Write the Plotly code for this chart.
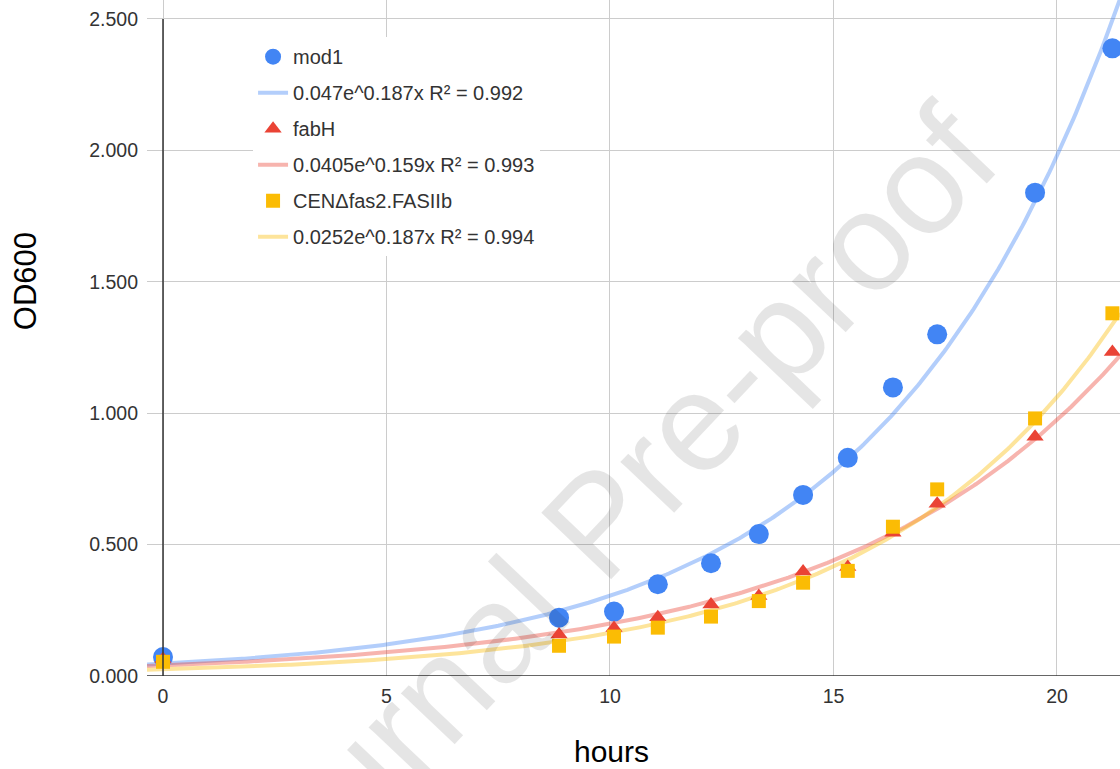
import numpy as np
import plotly.graph_objects as go

# ---- data ----
hours = [0, 8.86, 10.09, 11.07, 12.26, 13.33, 14.32, 15.32, 16.33, 17.32, 19.51, 21.24]
mod1 = [0.072, 0.222, 0.245, 0.349, 0.429, 0.540, 0.689, 0.830, 1.098, 1.300, 1.839, 2.388]
fabH = [0.065, 0.158, 0.183, 0.224, 0.272, 0.304, 0.398, 0.415, 0.545, 0.655, 0.910, 1.233]
cen = [0.054, 0.115, 0.150, 0.184, 0.226, 0.285, 0.355, 0.400, 0.568, 0.710, 0.980, 1.380]

series_names = ["mod1", "fabH", "CENΔfas2.FASIIb"]
trend_a = [0.047, 0.0405, 0.0252]
trend_b = [0.187, 0.159, 0.187]
trend_labels = ["0.047e^0.187x R² = 0.992", "0.0405e^0.159x R² = 0.993", "0.0252e^0.187x R² = 0.994"]

x_ticks = [0, 5, 10, 15, 20]
y_ticks = [0, 0.5, 1.0, 1.5, 2.0, 2.5]

colors = ["#4285F4", "#EA4335", "#FBBC04"]
trend_colors = ["rgba(66,133,244,0.4)", "rgba(234,67,53,0.4)", "rgba(251,188,4,0.4)"]
symbols = ["circle", "triangle-up", "square"]
sizes = [20, 15, 14]

X_RANGE = [-0.358, 21.41]
Y_RANGE = [0, 2.572]

fig = go.Figure()
xs = np.linspace(X_RANGE[0], X_RANGE[1], 400)
ys_list = [mod1, fabH, cen]

# trendlines first (under markers)
for i in range(3):
    fig.add_trace(go.Scatter(
        x=xs, y=trend_a[i] * np.exp(trend_b[i] * xs), mode="lines",
        line=dict(color=trend_colors[i], width=4), name=trend_labels[i],
        legendgroup="t%d" % i, legendrank=2 * i + 2, hoverinfo="skip"))
for i in range(3):
    fig.add_trace(go.Scatter(
        x=hours, y=ys_list[i], mode="markers", name=series_names[i],
        marker=dict(color=colors[i], symbol=symbols[i], size=sizes[i], line=dict(width=0)),
        legendgroup="s%d" % i, legendrank=2 * i + 1))

# axis lines at x=0 and y=0
fig.add_shape(type="line", xref="paper", yref="y", x0=0, x1=1, y0=0, y1=0,
              line=dict(color="#333333", width=1.5))
fig.add_shape(type="line", xref="x", yref="y", x0=0, x1=0, y0=0, y1=2.5,
              line=dict(color="#333333", width=1.5))

FONT = "Liberation Sans, Arial, sans-serif"

fig.add_annotation(text="Journal Pre-proof", xref="paper", yref="paper",
                   x=0.4635, y=0.2278, xanchor="center", yanchor="middle",
                   textangle=-46.5, showarrow=False,
                   font=dict(family=FONT, size=140, color="rgba(0,0,0,0.1)"))
fig.add_annotation(text="hours", xref="paper", yref="paper", x=0.4769, y=-0.1124,
                   xanchor="center", yanchor="middle", showarrow=False,
                   font=dict(family=FONT, size=30, color="#000000"))
fig.add_annotation(text="OD600", xref="paper", yref="paper", x=-0.1254, y=0.584,
                   xanchor="center", yanchor="middle", textangle=-90, showarrow=False,
                   font=dict(family=FONT, size=31, color="#000000"))

fig.update_layout(
    width=1120, height=769,
    margin=dict(l=147, r=0, t=0, b=93),
    paper_bgcolor="white", plot_bgcolor="white",
    font=dict(family=FONT, size=19.5, color="#333333"),
    showlegend=True,
    legend=dict(x=0.109, y=0.945, xanchor="left", yanchor="top",
                bgcolor="white", borderwidth=0, traceorder="grouped",
                tracegroupgap=7, font=dict(family=FONT, size=20, color="#333333")),
    xaxis=dict(range=X_RANGE, tickvals=x_ticks, ticktext=[str(v) for v in x_ticks],
               showgrid=True, gridcolor="#cccccc", gridwidth=1, zeroline=False,
               showline=False, ticks="", ticklabelstandoff=6),
    yaxis=dict(range=Y_RANGE, tickvals=y_ticks, ticktext=["%.3f" % v for v in y_ticks],
               showgrid=True, gridcolor="#cccccc", gridwidth=1, zeroline=False,
               showline=False, ticks="", ticklabelstandoff=8),
)

fig.write_html("out.html", config={"displayModeBar": False},
               post_script="document.body.style.margin='0';document.body.style.overflow='hidden';")
